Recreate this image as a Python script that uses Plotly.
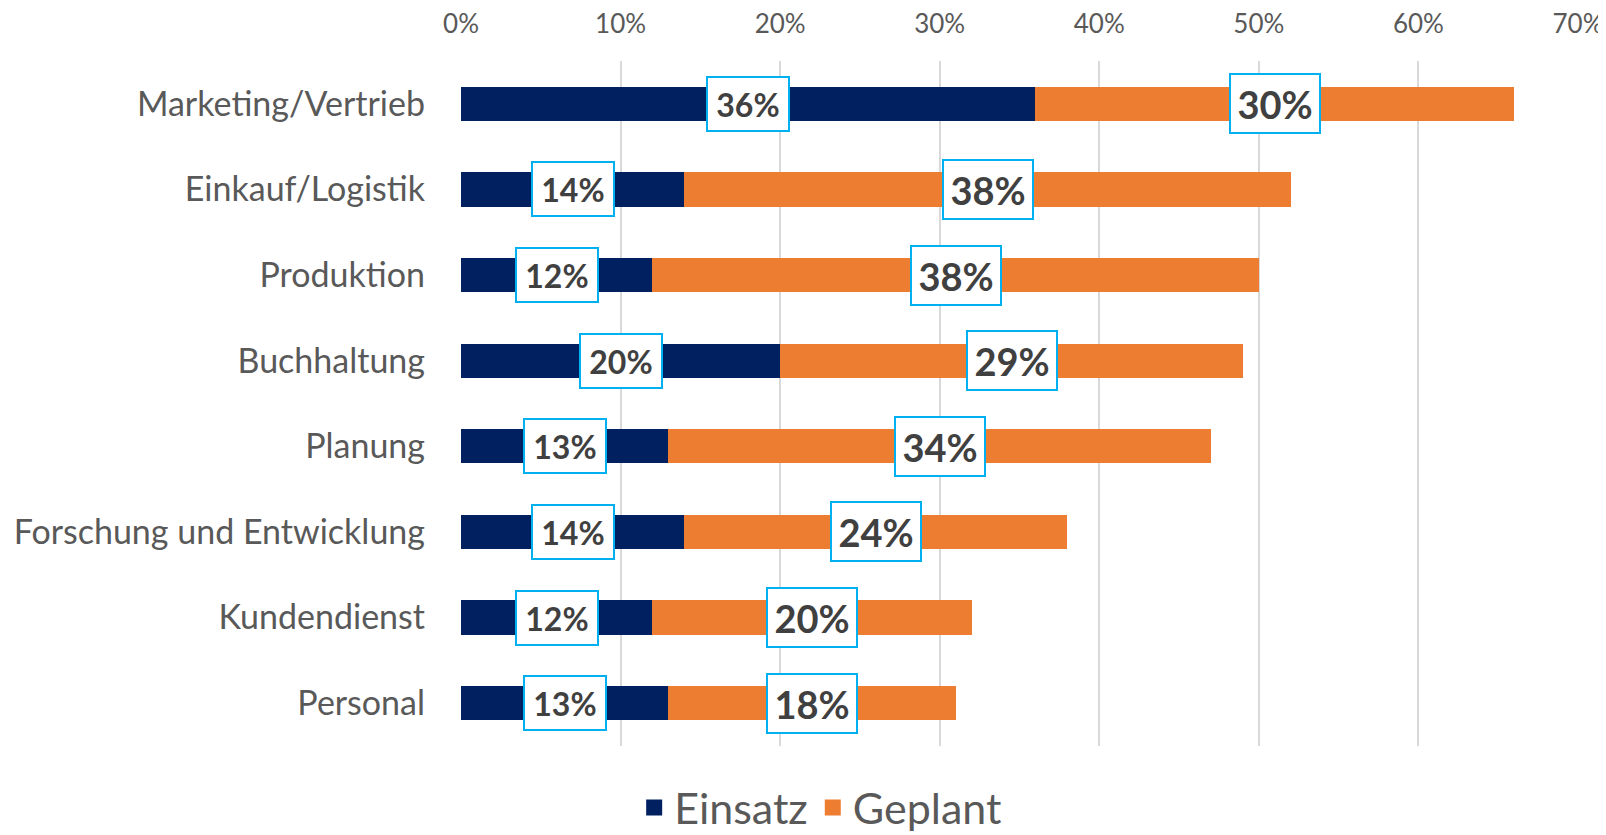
import plotly.graph_objects as go

# data (top to bottom)
bereiche = ["Marketing/Vertrieb", "Einkauf/Logistik", "Produktion", "Buchhaltung",
            "Planung", "Forschung und Entwicklung", "Kundendienst", "Personal"]
einsatz = [36, 14, 12, 20, 13, 14, 12, 13]
geplant = [30, 38, 38, 29, 34, 24, 20, 18]
x_ticks = [0, 10, 20, 30, 40, 50, 60, 70]

col_einsatz = "#002060"
col_geplant = "#ED7D31"
grey = "#595959"
font_family = "Lato, 'Open Sans', sans-serif"

fig = go.Figure()
fig.add_trace(go.Bar(y=bereiche, x=einsatz, name="Einsatz", orientation="h", showlegend=False,
                     marker=dict(color=col_einsatz, line=dict(width=0)), hoverinfo="skip"))
fig.add_trace(go.Bar(y=bereiche, x=geplant, name="Geplant", orientation="h", showlegend=False,
                     marker=dict(color=col_geplant, line=dict(width=0)), hoverinfo="skip"))
# legend entries with bigger square symbols
for name, col in [("Einsatz", col_einsatz), ("Geplant", col_geplant)]:
	fig.add_trace(go.Scatter(x=[None], y=[None], mode="markers", name=name,
	                         marker=dict(symbol="square", size=30, color=col)))

# boxed labels in the middle of each segment
annos = []
for b, e, g in zip(bereiche, einsatz, geplant):
	annos.append(dict(x=e / 2, y=b, xref="x", yref="y", text="<b>%d%%</b>" % e, showarrow=False,
	                  font=dict(family=font_family, size=32, color="#404040"),
	                  bgcolor="white", bordercolor="#00B0F0", borderwidth=2, width=78, height=50))
	annos.append(dict(x=e + g / 2, y=b, xref="x", yref="y", text="<b>%d%%</b>" % g, showarrow=False,
	                  font=dict(family=font_family, size=38, color="#404040"),
	                  bgcolor="white", bordercolor="#00B0F0", borderwidth=2, width=86, height=55))

# the page body adds an 8px offset, so the figure is 8px smaller
fig.update_layout(
	barmode="stack", bargap=0.6,
	width=1598, height=827, autosize=False,
	margin=dict(l=453, r=28, t=53, b=89, autoexpand=False),
	plot_bgcolor="white", paper_bgcolor="white",
	font=dict(family=font_family, color=grey, size=22),
	annotations=annos,
	legend=dict(orientation="h", x=0.322, xanchor="center", y=-0.09, yanchor="middle",
	            font=dict(size=43, color=grey), itemwidth=30, traceorder="normal"),
)
fig.update_xaxes(side="top", range=[0, 70], tickvals=x_ticks, ticktext=["%d%%" % t for t in x_ticks],
                 showgrid=True, gridcolor="#D9D9D9", gridwidth=2, zeroline=False, automargin=False,
                 tickfont=dict(size=26, color=grey), ticklabelstandoff=22, fixedrange=True)
fig.update_yaxes(autorange="reversed", showgrid=False, zeroline=False, automargin=False,
                 tickfont=dict(size=34, color=grey), ticklabelstandoff=35, fixedrange=True)

fig.write_html("out.html")
